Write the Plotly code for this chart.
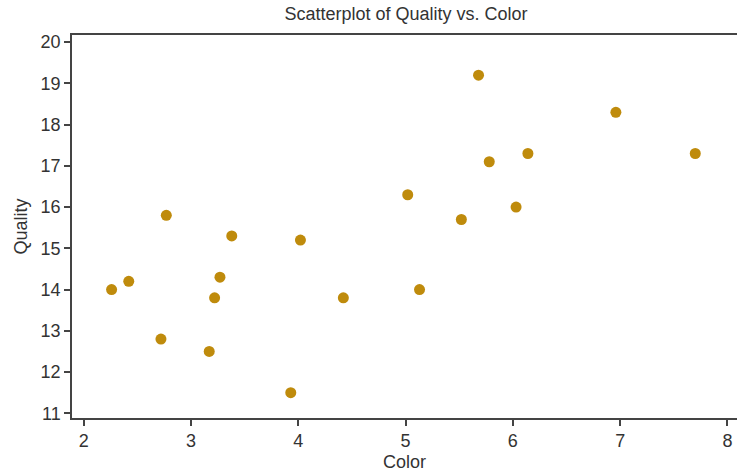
import plotly.graph_objects as go

color = [2.26, 2.42, 2.77, 2.72, 3.17, 3.22, 3.27, 3.38, 3.93, 4.02,
         4.42, 5.02, 5.13, 5.52, 5.68, 5.78, 6.03, 6.14, 6.96, 7.70]
quality = [14.0, 14.2, 15.8, 12.8, 12.5, 13.8, 14.3, 15.3, 11.5, 15.2,
           13.8, 16.3, 14.0, 15.7, 19.2, 17.1, 16.0, 17.3, 18.3, 17.3]
x_ticks = [2, 3, 4, 5, 6, 7, 8]
y_ticks = [11, 12, 13, 14, 15, 16, 17, 18, 19, 20]

FONT = "Liberation Sans, Arial, sans-serif"
TXT = "#333333"
LINE = "#444444"

W, H = 737, 476
L, T, B = 72, 35, 58

fig = go.Figure(go.Scatter(
    x=color, y=quality, mode="markers",
    marker=dict(color="#BF8B0C", size=11, line=dict(width=0)),
    showlegend=False,
))

fig.update_layout(
    width=W, height=H,
    margin=dict(l=L, r=0, t=T, b=B, autoexpand=False),
    paper_bgcolor="white", plot_bgcolor="white",
    font=dict(family=FONT, color=TXT),
    title=dict(text="Scatterplot of Quality vs. Color", x=406 / W, xref="container",
               xanchor="center", y=1 - 14 / H, yref="container", yanchor="middle",
               font=dict(size=18, color=TXT)),
    xaxis=dict(range=[1.891, 8.089], tickvals=x_ticks, showgrid=False, zeroline=False,
               showline=True, linecolor=LINE, linewidth=1.5, mirror=True,
               ticks="outside", ticklen=6, tickcolor=LINE, tickwidth=1.5,
               tickfont=dict(size=18, color=TXT), automargin=False),
    yaxis=dict(range=[10.886, 20.174], tickvals=y_ticks, showgrid=False, zeroline=False,
               showline=True, linecolor=LINE, linewidth=1.5, mirror=False,
               ticks="outside", ticklen=6, tickcolor=LINE, tickwidth=1.5,
               tickfont=dict(size=18, color=TXT), automargin=False),
    annotations=[
        dict(text="Color", xref="paper", yref="paper", x=0.5, y=0,
             xanchor="center", yanchor="middle", yshift=-(462 - 418),
             showarrow=False, font=dict(size=18, color=TXT)),
        dict(text="Quality", xref="paper", yref="paper", x=0, y=0.5,
             xanchor="center", yanchor="middle", xshift=-(72 - 20), textangle=-90,
             showarrow=False, font=dict(size=18, color=TXT)),
    ],
)

fig.write_html("out.html", config={"displayModeBar": False},
               post_script="document.body.style.margin='0';document.body.style.overflow='hidden';")
